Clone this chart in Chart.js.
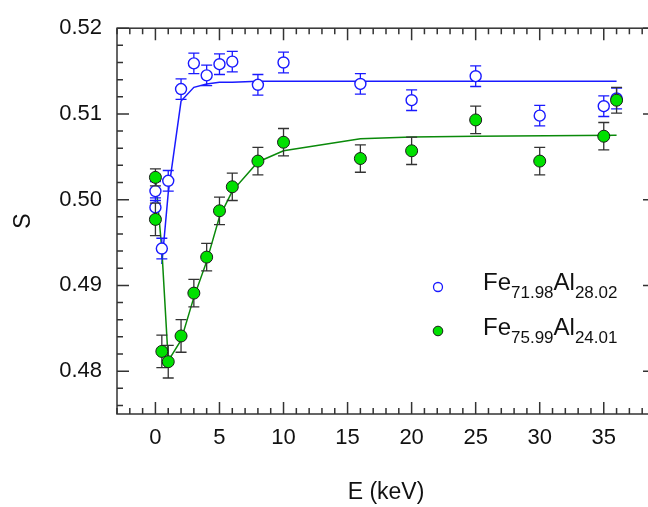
<!DOCTYPE html>
<html>
<head>
<meta charset="utf-8">
<script src="https://cdn.jsdelivr.net/npm/chart.js@4.4.1/dist/chart.umd.min.js"></script>
<style>
    html, body { margin: 0; padding: 0; background: #fff; overflow: hidden; }
    canvas { display: block; }
</style>
</head>
<body>
<canvas id="sChart" width="680" height="507"></canvas>
<script>
"use strict";

// Fe71.98Al28.02 - measured S vs E
var energyBlue = [0, 0, 0.5, 1, 2, 3, 4, 5, 6, 8, 10, 16, 20, 25, 30, 35, 36];
var sBlue = [0.5010, 0.4991, 0.4943, 0.5022, 0.5129, 0.5159, 0.5145, 0.5158, 0.5161, 0.5134, 0.5160, 0.5135, 0.5116, 0.5144, 0.5098, 0.5109, 0.5118];
var errBlue = [0.0011, 0.0011, 0.0012, 0.0012, 0.0012, 0.0012, 0.0012, 0.0012, 0.0012, 0.0012, 0.0012, 0.0012, 0.0012, 0.0012, 0.0012, 0.0012, 0.0012];

// Fe75.99Al24.01 - measured S vs E
var energyGreen = [0, 0, 0.5, 1, 2, 3, 4, 5, 6, 8, 10, 16, 20, 25, 30, 35, 36];
var sGreen = [0.5026, 0.4977, 0.4823, 0.4811, 0.4841, 0.4891, 0.4933, 0.4987, 0.5015, 0.5045, 0.5067, 0.5048, 0.5057, 0.5093, 0.5045, 0.5074, 0.5116];
var errGreen = [0.0010, 0.0019, 0.0019, 0.0019, 0.0019, 0.0016, 0.0016, 0.0016, 0.0016, 0.0016, 0.0016, 0.0016, 0.0016, 0.0016, 0.0016, 0.0016, 0.0015];

// fitted curves
var fitBlueE = [0.5, 1, 2, 3, 4, 5, 6, 8, 10, 16, 36];
var fitBlueS = [0.4925, 0.5008, 0.5115, 0.5131, 0.5135, 0.5137, 0.5137, 0.5138, 0.5138, 0.5138, 0.5138];
var fitGreenE = [0, 0.5, 1, 2, 3, 4, 5, 6, 8, 10, 16, 20, 25, 36];
var fitGreenS = [0.5026, 0.4942, 0.4812, 0.4836, 0.4886, 0.4928, 0.4980, 0.5010, 0.5044, 0.5057, 0.5071, 0.5073, 0.5074, 0.5075];

// tick labels
var xTickValues = [0, 5, 10, 15, 20, 25, 30, 35];
var yTickValues = [0.48, 0.49, 0.50, 0.51, 0.52];

var legendBlue = ["Fe", "71.98", "Al", "28.02"];
var legendGreen = ["Fe", "75.99", "Al", "24.01"];

var FONT = "'Liberation Sans', Arial, sans-serif";
var BLUE = "#1a1aff";
var GREEN_FILL = "#00e000";
var GREEN_LINE = "#0a8a0a";

function toPoints(xs, ys) {
    return xs.map(function(x, i) { return { x: x, y: ys[i] }; });
}

// frame + inward ticks on all four sides
var frameTicks = {
    id: "frameTicks",
    beforeDatasetsDraw: function(chart) {
        var ctx = chart.ctx, a = chart.chartArea;
        var xs = chart.scales.x, ys = chart.scales.y;
        ctx.save();
        ctx.strokeStyle = "#333";
        ctx.lineWidth = 1.5;
        ctx.beginPath();
        for (var v = xs.min; v <= xs.max; v++) {
            var px = xs.getPixelForValue(v);
            var len = (v % 5 === 0) ? 12 : 6;
            ctx.moveTo(px, a.bottom); ctx.lineTo(px, a.bottom - len);
            ctx.moveTo(px, a.top); ctx.lineTo(px, a.top + len);
        }
        for (var k = 238; k <= 260; k++) {
            var py = ys.getPixelForValue(k / 500);
            var l = (k % 5 === 0) ? 12 : 6;
            ctx.moveTo(a.left, py); ctx.lineTo(a.left + l, py);
            ctx.moveTo(a.right, py); ctx.lineTo(a.right - l, py);
        }
        ctx.stroke();
        ctx.strokeRect(a.left, a.top, a.right - a.left, a.bottom - a.top);
        ctx.restore();
    }
};

// error bars drawn under each scatter dataset
var errorBars = {
    id: "errorBars",
    beforeDatasetDraw: function(chart, args) {
        var ds = chart.data.datasets[args.index];
        if (!ds.errors) return;
        var ctx = chart.ctx, xs = chart.scales.x, ys = chart.scales.y;
        ctx.save();
        ctx.strokeStyle = ds.errorColor;
        ctx.lineWidth = 1.3;
        ctx.beginPath();
        ds.data.forEach(function(p, i) {
            var px = xs.getPixelForValue(p.x);
            var top = ys.getPixelForValue(p.y + ds.errors[i]);
            var bot = ys.getPixelForValue(p.y - ds.errors[i]);
            ctx.moveTo(px, top); ctx.lineTo(px, bot);
            ctx.moveTo(px - 5.5, top); ctx.lineTo(px + 5.5, top);
            ctx.moveTo(px - 5.5, bot); ctx.lineTo(px + 5.5, bot);
        });
        ctx.stroke();
        ctx.restore();
    }
};

// legend with subscripts
function drawLabel(ctx, parts, x, y) {
    parts.forEach(function(t, i) {
        var sub = (i % 2 === 1);
        ctx.font = (sub ? "17px " : "24px ") + FONT;
        ctx.fillText(t, x, sub ? y + 8 : y);
        x += ctx.measureText(t).width;
    });
}

var subLegend = {
    id: "subLegend",
    afterDraw: function(chart) {
        var ctx = chart.ctx;
        ctx.save();
        ctx.lineWidth = 1.3;
        ctx.beginPath();
        ctx.arc(438, 287, 4.5, 0, Math.PI * 2);
        ctx.fillStyle = "#fff";
        ctx.fill();
        ctx.strokeStyle = BLUE;
        ctx.stroke();
        ctx.beginPath();
        ctx.arc(438, 331, 4.8, 0, Math.PI * 2);
        ctx.fillStyle = GREEN_FILL;
        ctx.fill();
        ctx.lineWidth = 1;
        ctx.strokeStyle = "#1a1a1a";
        ctx.stroke();
        ctx.fillStyle = "#111";
        ctx.textBaseline = "alphabetic";
        drawLabel(ctx, legendBlue, 483, 290);
        drawLabel(ctx, legendGreen, 483, 335);
        ctx.restore();
    }
};

var ctx = document.getElementById("sChart");

new Chart(ctx, {
    type: "scatter",
    data: {
        datasets: [
            {
                label: "Fe75.99Al24.01",
                data: toPoints(energyGreen, sGreen),
                errors: errGreen,
                errorColor: "#333",
                pointRadius: 6,
                pointBackgroundColor: GREEN_FILL,
                pointBorderColor: "#1a1a1a",
                pointBorderWidth: 1,
                order: 0
            },
            {
                label: "Fe71.98Al28.02",
                data: toPoints(energyBlue, sBlue),
                errors: errBlue,
                errorColor: BLUE,
                pointRadius: 5.5,
                pointBackgroundColor: "#fff",
                pointBorderColor: BLUE,
                pointBorderWidth: 1.4,
                order: 1
            },
            {
                label: "fit green",
                data: toPoints(fitGreenE, fitGreenS),
                showLine: true,
                borderColor: GREEN_LINE,
                borderWidth: 1.5,
                pointRadius: 0,
                order: 2
            },
            {
                label: "fit blue",
                data: toPoints(fitBlueE, fitBlueS),
                showLine: true,
                borderColor: BLUE,
                borderWidth: 1.5,
                pointRadius: 0,
                order: 3
            }
        ]
    },
    options: {
        responsive: false,
        animation: false,
        events: [],
        layout: { padding: { left: 0, top: 21, right: 25, bottom: 0 } },
        plugins: {
            legend: { display: false },
            tooltip: { enabled: false }
        },
        scales: {
            x: {
                type: "linear",
                min: -3,
                max: 39,
                grid: { display: false, drawTicks: false },
                border: { display: false },
                afterBuildTicks: function(s) {
                    s.ticks = xTickValues.map(function(v) { return { value: v }; });
                },
                afterFit: function(s) { s.height = 93; },
                ticks: { color: "#111", padding: 11, maxRotation: 0, autoSkip: false, font: { family: FONT, size: 22 } },
                title: { display: true, text: "E (keV)", color: "#111", padding: { top: 0, bottom: 1 }, font: { family: FONT, size: 23 } }
            },
            y: {
                type: "linear",
                min: 0.475,
                max: 0.52,
                grid: { display: false, drawTicks: false },
                border: { display: false },
                afterBuildTicks: function(s) {
                    s.ticks = yTickValues.map(function(v) { return { value: v }; });
                },
                afterFit: function(s) { s.width = 117; },
                ticks: {
                    color: "#111",
                    padding: 15,
                    autoSkip: false,
                    font: { family: FONT, size: 22 },
                    callback: function(v) { return v.toFixed(2); }
                },
                title: { display: true, text: "S", color: "#111", padding: { top: 10, bottom: 0 }, font: { family: FONT, size: 23 } }
            }
        }
    },
    plugins: [frameTicks, errorBars, subLegend]
});
</script>
</body>
</html>
